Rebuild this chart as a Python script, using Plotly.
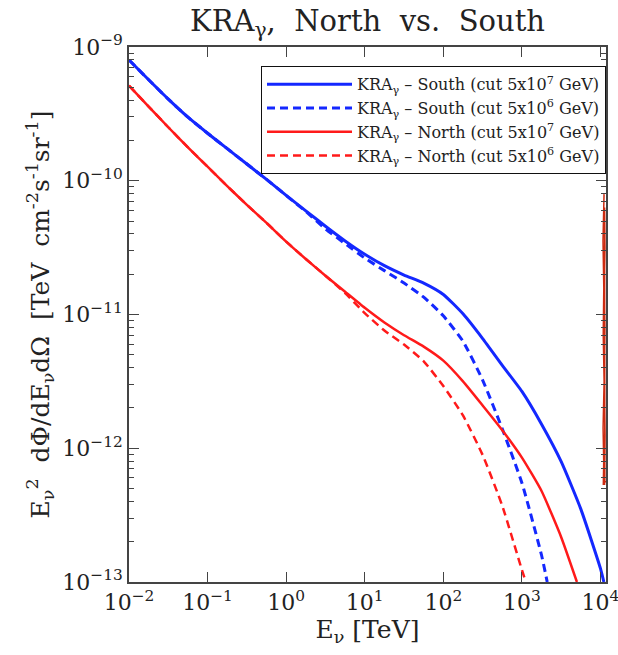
import plotly.graph_objects as go

# log10(E/TeV) and log10(flux)
south_cut7_logE = [-2.0, -1.75, -1.5, -1.25, -1.0, -0.75, -0.5, -0.25, 0.0, 0.25, 0.5, 0.75, 1.0, 1.25, 1.5, 1.75, 2.0, 2.25, 2.5, 2.75, 3.0, 3.25, 3.5, 3.75, 4.0, 4.043]
south_cut7_logF = [-9.097, -9.245, -9.39, -9.525, -9.645, -9.76, -9.875, -9.99, -10.11, -10.225, -10.34, -10.45, -10.55, -10.635, -10.705, -10.765, -10.85, -10.995, -11.18, -11.38, -11.575, -11.82, -12.10, -12.455, -12.90, -13.0]

south_cut6_logE = [-2.0, -1.75, -1.5, -1.25, -1.0, -0.75, -0.5, -0.25, 0.0, 0.25, 0.5, 0.75, 1.0, 1.25, 1.5, 1.75, 2.0, 2.25, 2.5, 2.75, 3.0, 3.25, 3.322]
south_cut6_logF = [-9.097, -9.245, -9.39, -9.525, -9.645, -9.76, -9.875, -9.99, -10.11, -10.23, -10.36, -10.47, -10.578, -10.672, -10.765, -10.87, -11.01, -11.20, -11.49, -11.855, -12.26, -12.80, -13.0]

north_cut7_logE = [-2.0, -1.75, -1.5, -1.25, -1.0, -0.75, -0.5, -0.25, 0.0, 0.25, 0.5, 0.75, 1.0, 1.25, 1.5, 1.75, 2.0, 2.25, 2.5, 2.75, 3.0, 3.25, 3.5, 3.70]
north_cut7_logF = [-9.289, -9.445, -9.60, -9.75, -9.895, -10.04, -10.18, -10.315, -10.455, -10.585, -10.71, -10.83, -10.95, -11.06, -11.155, -11.24, -11.345, -11.50, -11.68, -11.865, -12.07, -12.32, -12.665, -13.0]

north_cut6_logE = [-2.0, -1.75, -1.5, -1.25, -1.0, -0.75, -0.5, -0.25, 0.0, 0.25, 0.5, 0.75, 1.0, 1.25, 1.5, 1.75, 2.0, 2.25, 2.5, 2.75, 3.0, 3.05]
north_cut6_logF = [-9.289, -9.445, -9.60, -9.75, -9.895, -10.04, -10.18, -10.315, -10.455, -10.585, -10.71, -10.84, -10.99, -11.12, -11.225, -11.35, -11.535, -11.755, -12.05, -12.43, -12.91, -13.0]

# stray red band at the right edge of the reference
stray_logE = [4.045, 4.032, 4.042, 4.035, 4.046, 4.033, 4.041, 4.036, 4.052, 4.058, 4.05, 4.056, 4.049, 4.057, 4.052, 4.055, 4.2]
stray_logF = [-10.10, -10.45, -10.8, -11.15, -11.5, -11.85, -12.1, -12.27, -12.27, -11.9, -11.5, -11.1, -10.8, -10.5, -10.2, -12.25, -12.25]

x_tick_exp = [-2, -1, 0, 1, 2, 3, 4]
y_tick_exp = [-13, -12, -11, -10, -9]

NB = "\u00a0"
series = [
    (f"KRA<sub>γ</sub>{NB}–{NB}South{NB}(cut{NB}5x10<sup>7</sup>{NB}GeV)", south_cut7_logE, south_cut7_logF, "#1428ff", "solid", 3),
    (f"KRA<sub>γ</sub>{NB}–{NB}South{NB}(cut{NB}5x10<sup>6</sup>{NB}GeV)", south_cut6_logE, south_cut6_logF, "#1428ff", "dash", 3),
    (f"KRA<sub>γ</sub>{NB}–{NB}North{NB}(cut{NB}5x10<sup>7</sup>{NB}GeV)", north_cut7_logE, north_cut7_logF, "#ff1a1a", "solid", 2.5),
    (f"KRA<sub>γ</sub>{NB}–{NB}North{NB}(cut{NB}5x10<sup>6</sup>{NB}GeV)", north_cut6_logE, north_cut6_logF, "#ff1a1a", "dash", 2.5),
]

FONT = "DejaVu Serif"
fig = go.Figure()
for name, lx, ly, col, dash, w in series:
    fig.add_trace(go.Scatter(
        x=[10 ** v for v in lx], y=[10 ** v for v in ly], mode="lines", name=name,
        line=dict(color=col, width=w, dash="8px,5px" if dash == "dash" else "solid", shape="spline", smoothing=0.5),
    ))

fig.add_trace(go.Scatter(
    x=[10 ** v for v in stray_logE], y=[10 ** v for v in stray_logF], mode="lines",
    line=dict(color="#cc2a10", width=1.5), showlegend=False, hoverinfo="skip",
))

def sup(e):
    return "10<sup>" + ("−" + str(-e) if e < 0 else str(e)) + "</sup>"

fig.update_layout(
    width=618, height=655,
    margin=dict(l=129, r=12, t=47, b=73, autoexpand=False),
    paper_bgcolor="white", plot_bgcolor="white",
    font=dict(family=FONT, color="#222"),
    title=dict(text=f"KRA<sub>γ</sub>,{NB} North{NB} vs.{NB} South", x=(129 + 606) / 2 / 618, xanchor="center",
               y=1 - 21 / 655, yanchor="middle", yref="container", font=dict(size=29, family=FONT, color="#222")),
    showlegend=True,
    legend=dict(x=1.0, y=0.964, xanchor="right", yanchor="top", bgcolor="white",
                bordercolor="#111", borderwidth=1, font=dict(size=16, family=FONT, color="#222"),
                tracegroupgap=0, itemwidth=85),
)
fig.update_xaxes(
    type="log", range=[-2, 4.07], showgrid=False, zeroline=False, automargin=False,
    ticklabeloverflow="allow",
    showline=True, linecolor="#444", linewidth=1.5, mirror="ticks",
    ticks="inside", ticklen=10, tickcolor="#444", tickwidth=1.2,
    tickvals=[10 ** e for e in x_tick_exp], ticktext=[sup(e) for e in x_tick_exp],
    tickfont=dict(size=22, family=FONT, color="#222"),
    title=dict(text=f"E<sub>ν</sub>{NB}[TeV]", font=dict(size=25, family=FONT, color="#222"), standoff=6),
)
fig.update_yaxes(
    type="log", range=[-13, -9], showgrid=False, zeroline=False, automargin=False,
    ticklabeloverflow="allow",
    showline=True, linecolor="#444", linewidth=1.5, mirror="ticks",
    ticks="inside", ticklen=10, tickcolor="#444", tickwidth=1.2,
    tickvals=[10 ** e for e in y_tick_exp], ticktext=[sup(e) for e in y_tick_exp],
    tickfont=dict(size=22, family=FONT, color="#222"),
    minor=dict(ticks="inside", ticklen=5, tickcolor="#444", tickwidth=1, dtick="D1", showgrid=False),
    title=dict(text=f"E<sub>ν</sub><sup>2</sup>{NB}{NB}dΦ/dE<sub>ν</sub>dΩ{NB}{NB}[TeV{NB}{NB}cm<sup>-2</sup>s<sup>-1</sup>sr<sup>-1</sup>]",
               font=dict(size=25, family=FONT, color="#222"), standoff=6),
)

fig.write_html("out.html")
